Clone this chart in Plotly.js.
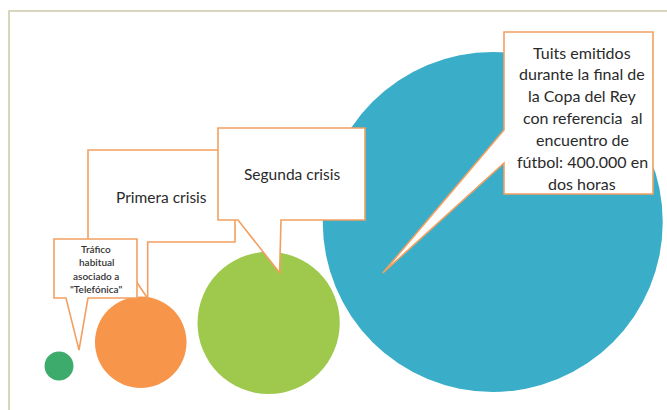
<!DOCTYPE html>
<html>
<head>
<meta charset="utf-8">
<script src="https://cdn.plot.ly/plotly-3.0.1.min.js"></script>
<style>
  html, body { margin: 0; padding: 0; background: #ffffff; }
  #chart { width: 667px; height: 410px; }
</style>
</head>
<body>
<div id="chart"></div>
<script>
// ---- data (400.000 tuits is stated) ----
const categories = ["Tráfico habitual", "Primera crisis", "Segunda crisis", "Final Copa del Rey"];
const tweetCounts = [2900, 29000, 70000, 400000];
const traficoLines = ["Tráfico", "habitual", "asociado a", "\"Telefónica\""];
const primeraText = "Primera crisis";
const segundaText = "Segunda crisis";
const tuitsLines = [
  "Tuits emitidos",
  "durante la final de",
  "la Copa del Rey",
  "con referencia  al",
  "encuentro de",
  "fútbol: 400.000 en",
  "dos horas"
];

// ---- styling / layout config ----
const W = 667, H = 410;
const colors = ["#3dab6b", "#f7964a", "#9ec94d", "#3aaec9"];
const maxDiameter = 340;
const sizeref = 2 * Math.max(...tweetCounts) / (maxDiameter * maxDiameter);
const firstCenterX = 59;
const gaps = [21.5, 11, -17];        // horizontal spacing between bubble edges
const baseline = 392;                 // common bottom line
const lifts = [11.5, 4, -2, 0];       // how far each bubble floats above the baseline
const outline = "#f2a062";
const fontFam = "Lato, 'Open Sans', sans-serif";
const textColor = "#2a2a2a";

// radii via the same area scaling plotly uses (diameter = sqrt(2*v/sizeref))
const radii = tweetCounts.map(v => Math.sqrt(2 * v / sizeref) / 2);
const cx = [], cy = [];
radii.forEach((r, i) => {
  cx.push(i === 0 ? firstCenterX : cx[i - 1] + radii[i - 1] + gaps[i - 1] + r);
  cy.push(baseline - lifts[i] - r);
});

const trace = {
  type: "scatter",
  mode: "markers",
  x: cx,
  y: cy,
  text: categories,
  hoverinfo: "skip",
  marker: {
    size: tweetCounts,
    sizemode: "area",
    sizeref: sizeref,
    color: colors,
    line: { width: 0 },
    opacity: 1
  }
};

// callout paths, pointer tips attached to bubbles
function path(pts) { return "M" + pts.map(p => p[0].toFixed(1) + "," + p[1].toFixed(1)).join(" L") + " Z"; }
const tipTrafico = [cx[0] + 20, cy[0] - 16];
const tipPrimera = [cx[1] + 7, cy[1] - radii[1] + 2];
const tipSegunda = [cx[2] + 11, cy[2] - radii[2] + 21];
const tipTuits   = [cx[3] - 110, cy[3] + 51];

const calloutShape = (d) => ({
  type: "path", xref: "x", yref: "y", path: d,
  line: { color: outline, width: 1.6 }, fillcolor: "#ffffff", layer: "above"
});

const shapes = [
  // outer frame
  { type: "rect", xref: "x", yref: "y", x0: 9, y0: 11, x1: 672, y1: 416,
    line: { color: "#cbc9a8", width: 1.5 }, fillcolor: "rgba(0,0,0,0)", layer: "below" },
  // Primera crisis
  calloutShape(path([[88,150],[235,150],[235,242],[tipPrimera[0],242],tipPrimera,[110,242],[88,242]])),
  // Segunda crisis
  calloutShape(path([[218,128],[365,128],[365,220],[281,220],tipSegunda,[238,220],[218,220]])),
  // Tráfico habitual
  calloutShape(path([[54,239],[137,239],[137,298],[88,298],tipTrafico,[66,298],[54,298]])),
  // Tuits
  calloutShape(path([[504,32],[653,32],[653,194],[504,194],[504,163],tipTuits,[504,130]]))
];

const base = { xref: "x", yref: "y", showarrow: false, align: "center", xanchor: "center", yanchor: "middle" };
const annotations = [];
traficoLines.forEach((t, i) => annotations.push(Object.assign({}, base, {
  x: 96, y: 249 + i * 13.3, text: t, font: { family: fontFam, size: 10, color: "#333333", weight: 600 }
})));
annotations.push(Object.assign({}, base, { x: 161, y: 197, text: primeraText,
  font: { family: fontFam, size: 15.5, color: textColor } }));
annotations.push(Object.assign({}, base, { x: 292, y: 174, text: segundaText,
  font: { family: fontFam, size: 15.5, color: textColor } }));
tuitsLines.forEach((t, i) => annotations.push(Object.assign({}, base, {
  x: 582, y: 52 + i * 21.9, text: t, font: { family: fontFam, size: 16, color: textColor }
})));

const layout = {
  width: W, height: H,
  margin: { l: 0, r: 0, t: 0, b: 0, pad: 0 },
  paper_bgcolor: "#ffffff",
  plot_bgcolor: "#ffffff",
  showlegend: false,
  xaxis: { range: [0, W], visible: false, fixedrange: true },
  yaxis: { range: [H, 0], visible: false, fixedrange: true },
  shapes: shapes,
  annotations: annotations,
  hovermode: false
};

Plotly.newPlot("chart", [trace], layout, { displayModeBar: false, staticPlot: true });
</script>
</body>
</html>
